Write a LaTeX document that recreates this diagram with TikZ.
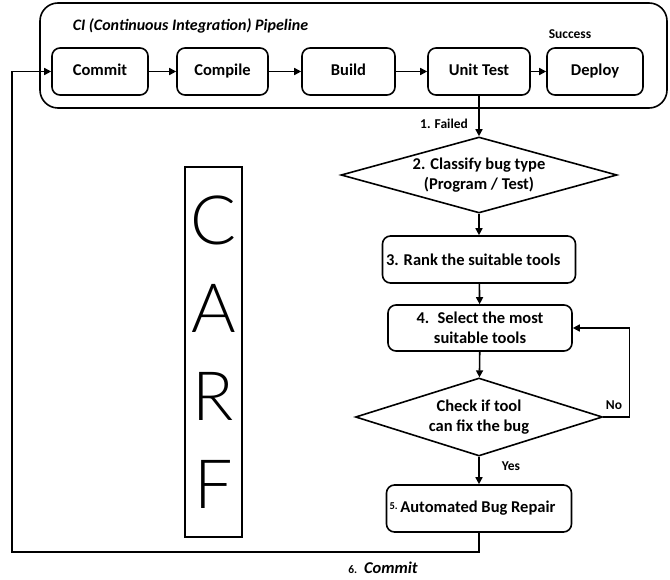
\documentclass[tikz,border=0pt]{standalone}
\usepackage{fontspec}
\setmainfont{Carlito}
\newfontfamily\carffont{Lato Light}
\usetikzlibrary{arrows.meta,shapes.geometric}

\begin{document}
\begin{tikzpicture}[x=1pt, y=-1pt, line width=1.6pt,
    arr/.style={-{Triangle[length=7pt,width=7pt]}},
    stagebox/.style={draw, rounded corners=8pt, minimum height=47pt,
      font=\bfseries\fontsize{16.5}{19.5}\selectfont, align=center},
    pipebox/.style={stagebox, text height=11.5pt, text depth=3.5pt},
    decision/.style={draw, diamond, inner sep=0pt, align=center,
      font=\bfseries\fontsize{16.5}{19.5}\selectfont},
    note/.style={font=\bfseries\fontsize{13.5}{16}\selectfont}]

  \useasboundingbox (0,0) rectangle (670,580);

  % CI pipeline frame
  \node (ci) at (353.5,55.5) [draw, rounded corners=18pt, minimum width=627pt, minimum height=105pt] {};
  \node (cititle) at (72,26) [anchor=west, inner sep=0pt, font=\bfseries\itshape\fontsize{16}{19}\selectfont] {CI (Continuous Integration) Pipeline};

  % Pipeline stages
  \node (commit) at (100,71.5) [pipebox, minimum width=96pt] {Commit};
  \node (compile) at (222.5,71.5) [pipebox, minimum width=91pt] {Compile};
  \node (build) at (348.5,71.5) [pipebox, minimum width=93pt] {Build};
  \node (unittest) at (479,71.5) [pipebox, minimum width=102pt] {Unit Test};
  \node (deploy) at (595,71.5) [pipebox, minimum width=96pt] {Deploy};
  \node (success) at (570,34) [note] {Success};

  \draw[arr] (commit) -- (compile);
  \draw[arr] (compile) -- (build);
  \draw[arr] (build) -- (unittest);
  \draw[arr] (unittest) -- (deploy);

  % Repair flow
  \node (classify) at (479,175) [decision, aspect=3.6, minimum width=276pt, minimum height=76pt] {2. Classify bug type\\ (Program / Test)};
  \node (rank) at (479,259.5) [stagebox, minimum width=193pt, text width=186pt, inner xsep=3.5pt, align=flush left] {3. Rank the suitable tools};
  \node (select) at (480,328) [stagebox, minimum width=184pt, minimum height=46pt] {4.\enspace Select the most\\ suitable tools};
  \node (check) at (479,417) [decision, aspect=3.2, minimum width=247pt, minimum height=78pt] {Check if tool\\ can fix the bug};
  \node (repair) at (479,508.5) [stagebox, minimum width=185pt, text width=179pt, inner xsep=3pt, align=flush left] {{\fontsize{10.5}{12}\selectfont\raisebox{3pt}{5.}}\,Automated Bug Repair};

  \node (failed) at (444,124) [note] {1. Failed};
  \node (no) at (614,405) [note] {No};
  \node (yes) at (511,466) [note] {Yes};

  \draw[arr] (unittest) -- (classify);
  \draw[arr] (classify) -- (rank);
  \draw[arr] (rank) -- (select);
  \draw[arr] (select) -- (check);
  \draw[arr] (check) -- (repair);
  \draw[arr] (check.east) -- ++(26,0) |- (select.east);

  % Commit back to the pipeline
  \coordinate (backcorner) at (12,552);
  \draw[arr] (repair.south) |- (backcorner) |- (commit.west);
  \node (commitlbl) at (383,568) [note] {{\fontsize{11.5}{13}\selectfont 6.}\enspace{\itshape\fontsize{16.5}{19}\selectfont Commit}};

  % CARF label
  \node (carf) at (213.5,352) [draw, minimum width=57pt, minimum height=370pt, inner sep=0pt, align=center,
    font=\carffont\fontsize{68}{88}\selectfont] {C\\A\\R\\F};

\end{tikzpicture}
\end{document}
